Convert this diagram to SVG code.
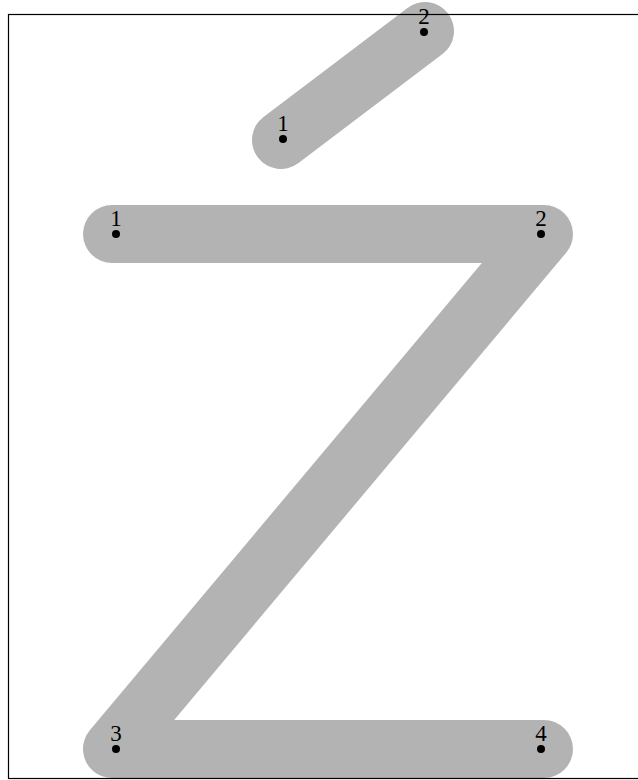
<svg xmlns="http://www.w3.org/2000/svg" width="638" height="780" viewBox="0 0 638 780">
<style>
.stroke{fill:none;stroke:#b3b3b3;stroke-width:58;stroke-linecap:round;stroke-linejoin:round}
.lbl{font-family:"Liberation Serif","DejaVu Serif",serif;font-size:23px;text-anchor:middle;fill:#000}
.dot{fill:#000}
</style>
<g id="connectors">
<path class="stroke" d="M281,140 L425,31"/>
<path class="stroke" d="M112,234 L544,234 L112,749 L544,749"/>
</g>
<rect x="8.5" y="14.5" width="640" height="764" fill="none" stroke="#000" stroke-width="1.2"/>
<g id="accent-1"><circle class="dot" cx="283" cy="139" r="4"/><text class="lbl" x="283" y="131">1</text></g>
<g id="accent-2"><circle class="dot" cx="424" cy="32" r="4"/><text class="lbl" x="424" y="24">2</text></g>
<g id="z-1"><circle class="dot" cx="116" cy="234" r="4"/><text class="lbl" x="116" y="226">1</text></g>
<g id="z-2"><circle class="dot" cx="541" cy="234" r="4"/><text class="lbl" x="541" y="226">2</text></g>
<g id="z-3"><circle class="dot" cx="116" cy="749" r="4"/><text class="lbl" x="116" y="741">3</text></g>
<g id="z-4"><circle class="dot" cx="541" cy="749" r="4"/><text class="lbl" x="541" y="741">4</text></g>
</svg>
